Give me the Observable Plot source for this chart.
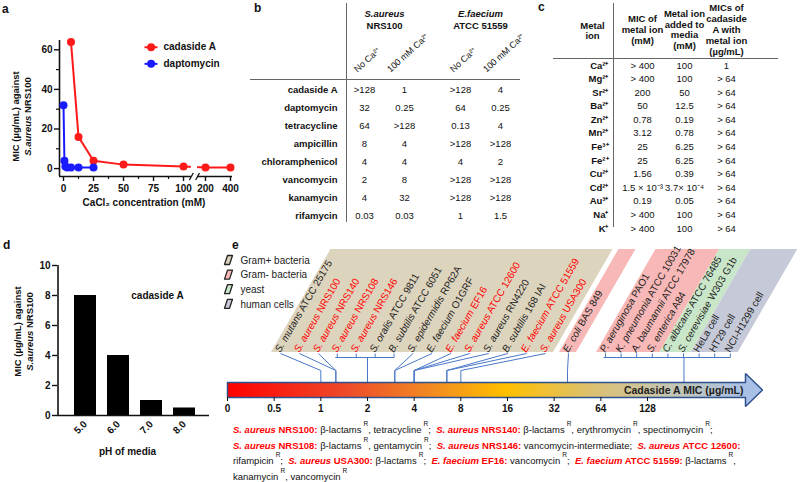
<!DOCTYPE html>
<html><head><meta charset="utf-8">
<script src="https://cdn.jsdelivr.net/npm/d3@7"></script>
<script src="https://cdn.jsdelivr.net/npm/@observablehq/plot@0.6"></script>
<style>
html,body{margin:0;padding:0;background:#fff;}
#root{position:relative;width:800px;height:482px;overflow:hidden;background:#fff;font-family:"Liberation Sans",Arial,Helvetica,sans-serif;color:#111;}
.letter{position:absolute;font-weight:bold;font-size:12px;line-height:12px;}
#cap{position:absolute;left:233px;top:422px;font-size:9.5px;line-height:15.5px;white-space:nowrap;color:#111;}
#cap b{color:#ff0000;}
#cap sup{font-size:6.5px;vertical-align:7px;margin-left:2px;line-height:0;}
</style></head>
<body><div id="root"></div>
<script>
// ---------------- DATA ----------------
// panel a
const seriesA = ["cadaside A", "daptomycin"];
const cadConc = [6.25, 12.5, 25, 50, 100, 200, 400];
const cadMIC  = [64, 16, 4, 2, 1, 0.5, 0.5];
const dapConc = [0, 0.78, 1.56, 3.12, 6.25, 12.5, 25];
const dapMIC  = [32, 4, 1, 0.5, 0.5, 0.5, 0.5];
const xTicksA = [0, 25, 50, 75, 100, 200, 400];
// panel b
const antibiotics = ["cadaside A","daptomycin","tetracycline","ampicillin","chloramphenicol","vancomycin","kanamycin","rifamycin"];
const strainsB = ["S.aureus NRS100", "E.faecium ATCC 51559"];
const conditionsB = ["No Ca²⁺", "100 mM Ca²⁺"];
const saNoCa = [">128","32","64","8","4","2","4","0.03"];
const saCa   = ["1","0.25",">128","4","4","8","32","0.03"];
const efNoCa = [">128","64","0.13",">128","4",">128",">128","1"];
const efCa   = ["4","0.25","4",">128","2",">128",">128","1.5"];
// panel c
const metalIons = ["Ca²⁺","Mg²⁺","Sr²⁺","Ba²⁺","Zn²⁺","Mn²⁺","Fe³⁺","Fe²⁺","Cu²⁺","Cd²⁺","Au³⁺","Na⁺","K⁺"];
const micMetal = ["> 400","> 400","200","50","0.78","3.12","25","25","1.56","1.5 × 10⁻³","0.19","> 400","> 400"];
const metalAdded = ["100","100","50","12.5","0.19","0.78","6.25","6.25","0.39","3.7× 10⁻⁴","0.05","100","100"];
const cadWithMetal = ["1","> 64","> 64","> 64","> 64","> 64","> 64","> 64","> 64","> 64","> 64","> 64","> 64"];
const headersC = ["Metal\nion","MIC of\nmetal ion\n(mM)","Metal ion\nadded to\nmedia\n(mM)","MICs of\ncadaside\nA with\nmetal ion\n(µg/mL)"];
// panel d
const pH = ["5.0","6.0","7.0","8.0"];
const micPH = [8, 4, 1, 0.5];
// panel e
const organisms = ["S. mutans ATCC 25175","S. aureus NRS100","S. aureus NRS140","S. aureus NRS108","S. aureus NRS146","S. oralis ATCC 9811","B. subtilis ATCC 6051","S. epidermidis RP62A","E. faecium O1GRF","E. faecium EF16","S. aureus ATCC 12600","S. aureus RN4220","B. subtilis 168 IAI","E. faecium ATCC 51559","S. aureus USA300","E. coli BAS 849","P. aeruginosa PAO1","K. pneumonia ATCC 10031","A. baumannii ATCC 17978","S. enterica A84","C. albicans ATCC 76485","S. cerevisiae W303 G1b","HeLa cell","HT29 cell","NCI-H1299 cell"];
const groupNames = ["Gram+ bacteria","Gram- bacteria","yeast","human cells"];
const orgGroup = [0,0,0,0,0,0,0,0,0,0,0,0,0,0,0,1,1,1,1,1,2,2,3,3,3].map(g => groupNames[g]);
const orgMIC = [1,1.25,1.25,2,2,2,2,3,3,4,4,4,6.5,6.5,8,39,220,220,220,220,220,220,220,220,220];
const orgResistant = [0,1,1,1,1,0,0,0,0,1,1,0,0,1,1,0,0,0,0,0,0,0,0,0,0];
const micTickLabels = ["0","0.5","1","2","4","8","16","32","64","128"];
const captionLines = [
  '<b><i>S. aureus</i> NRS100:</b> β-lactams<sup>R</sup>, tetracycline<sup>R</sup>; &nbsp;<b><i>S. aureus</i> NRS140:</b> β-lactams<sup>R</sup>, erythromycin<sup>R</sup>, spectinomycin<sup>R</sup>;',
  '<b><i>S. aureus</i> NRS108:</b> β-lactams<sup>R</sup>, gentamycin<sup>R</sup>; &nbsp;<b><i>S. aureus</i> NRS146:</b> vancomycin-intermediate; &nbsp;<b><i>S. aureus</i> ATCC 12600:</b>',
  'rifampicin<sup>R</sup>; &nbsp;<b><i>S. aureus</i> USA300:</b> β-lactams<sup>R</sup>; &nbsp;<b><i>E. faecium</i> EF16:</b> vancomycin<sup>R</sup>; &nbsp;<b><i>E. faecium</i> ATCC 51559:</b> β-lactams<sup>R</sup>,',
  'kanamycin<sup>R</sup>, vancomycin<sup>R</sup>'
];

// ---------------- HELPERS ----------------
const NS = "http://www.w3.org/2000/svg";
const FONT = "'Liberation Sans', Arial, Helvetica, sans-serif";
const root = document.getElementById("root");
const baseStyle = (extra = {}) => Object.assign({fontFamily: FONT, fontSize: "9.5px", background: "none", overflow: "visible", color: "#111"}, extra);
function mount(svg, left, top) {
  svg.style.position = "absolute"; svg.style.left = left + "px"; svg.style.top = top + "px";
  root.appendChild(svg); return svg;
}
function italicize(svg, re) {
  svg.querySelectorAll("text").forEach(t => {
    if (t.childElementCount) return;
    const s = t.textContent, m = s.match(re);
    if (!m) return;
    t.textContent = "";
    const a = document.createElementNS(NS, "tspan");
    a.setAttribute("font-style", "italic"); a.textContent = m[1];
    t.appendChild(a); t.appendChild(document.createTextNode(s.slice(m[1].length)));
  });
}
function letter(ch, left, top) {
  const d = document.createElement("div"); d.className = "letter"; d.textContent = ch;
  d.style.left = left + "px"; d.style.top = top + "px"; root.appendChild(d);
}

// ---------------- PANEL A ----------------
const tA = v => v <= 100 ? v : 118.3 + (v - 200) * 0.1042;   // broken axis
const rowsA = [
  ...cadConc.map((c, i) => ({series: seriesA[0], conc: c, mic: cadMIC[i]})),
  ...dapConc.map((c, i) => ({series: seriesA[1], conc: c, mic: dapMIC[i]}))
];
const xdA = [-3.33, 140.8], ydA = [-4, 64.7];
const gapA = [106.5, 111.7];
const legendA = seriesA.map((s, i) => ({series: s, i}));
const xTA = xTicksA.map(tA);
const plotA = Plot.plot({
  width: 240, height: 232, marginLeft: 59, marginRight: 8, marginTop: 40, marginBottom: 56,
  x: {domain: xdA, range: [59, 232], axis: null},
  y: {domain: ydA, range: [176, 40], axis: null},
  color: {domain: seriesA, range: ["#ff1a1a", "#1a1aff"]},
  style: baseStyle({fontWeight: "bold"}),
  marks: [
    Plot.ruleX([xdA[0]], {stroke: "#111", strokeWidth: 1.6}),
    Plot.ruleY([ydA[0]], {stroke: "#111", strokeWidth: 1.6}),
    Plot.axisY({ticks: [0, 20, 40, 60], tickSize: 5, tickPadding: 2, label: null, strokeWidth: 1.4, fontSize: 10}),
    Plot.axisY({ticks: [10, 30, 50], tickSize: 3, tickFormat: () => "", label: null, strokeWidth: 1.2}),
    Plot.axisX({ticks: xTA, tickFormat: d => xTicksA[xTA.indexOf(d)], tickSize: 5, tickPadding: 3, label: null, strokeWidth: 1.4, fontSize: 10}),
    Plot.axisX({ticks: [12.5, 37.5, 62.5, 87.5], tickSize: 3, tickFormat: () => "", label: null, strokeWidth: 1.2}),
    Plot.line(rowsA, {x: d => tA(d.conc), y: "mic", stroke: "series", strokeWidth: 2}),
    Plot.dot(rowsA, {x: d => tA(d.conc), y: "mic", fill: "series", r: 4}),
    Plot.rect([0], {x1: gapA[0], x2: gapA[1], y1: -6.5, y2: 3, fill: "#fff"}),
    Plot.link(gapA, {x1: d => d - 1.6, x2: d => d + 1.6, y1: -5.8, y2: -2.2, stroke: "#111", strokeWidth: 1.3}),
    Plot.link(legendA, {x1: 67.5, x2: 78.3, y1: d => 61.3 - d.i * 8.4, y2: d => 61.3 - d.i * 8.4, stroke: "series", strokeWidth: 2}),
    Plot.dot(legendA, {x: 73, y: d => 61.3 - d.i * 8.4, fill: "series", r: 4}),
    Plot.text(legendA, {x: 83.3, y: d => 61.3 - d.i * 8.4, text: "series", textAnchor: "start", fill: "#111", fontSize: 10}),
    Plot.text(["MIC (µg/mL) against"], {text: d => d, frameAnchor: "left", textAnchor: "middle", rotate: -90, dx: -44, dy: 8}),
    Plot.text(["S.aureus NRS100"], {text: d => d, frameAnchor: "left", textAnchor: "middle", rotate: -90, dx: -32, dy: 8}),
    Plot.text(["CaCl₂ concentration (mM)"], {text: d => d, frameAnchor: "bottom", dy: 29, dx: -2, fontSize: 10})
  ]
});
italicize(plotA, /^(S\.aureus)/);
mount(plotA, 0, 0);

// ---------------- PANEL B ----------------
const condArrays = [[saNoCa, saCa], [efNoCa, efCa]];
const cellsB = antibiotics.flatMap((a, i) => [0, 1].flatMap(s => [0, 1].map(c => ({row: i, strain: s, cond: c, v: condArrays[s][c][i]}))));
const headB = [0, 1].flatMap(s => [0, 1].map(c => ({strain: s, cond: c, label: conditionsB[c]})));
const plotB = Plot.plot({
  width: 290, height: 232, marginLeft: 15, marginRight: 5, marginTop: 3, marginBottom: 10,
  x: {domain: [0, 1], range: [149, 245], axis: null},
  y: {domain: [0, 7], range: [89, 215], axis: null},
  style: baseStyle(),
  marks: [
    Plot.ruleX([0], {dx: -38, stroke: "#666", strokeWidth: 1}),
    Plot.ruleY([0], {dy: -10, stroke: "#666", strokeWidth: 1}),
    Plot.text(antibiotics, {x: () => 0, y: (d, i) => i, text: d => d, dx: -47, textAnchor: "end", fontWeight: "bold"}),
    Plot.text(cellsB.filter(c => c.cond === 0), {x: "strain", y: "row", text: "v", dx: -20}),
    Plot.text(cellsB.filter(c => c.cond === 1), {x: "strain", y: "row", text: "v", dx: 20}),
    Plot.text(strainsB, {x: (d, i) => i, y: () => 0, text: d => d.split(" ")[0], dy: -76, fontWeight: "bold", fontStyle: "italic"}),
    Plot.text(strainsB, {x: (d, i) => i, y: () => 0, text: d => d.split(" ").slice(1).join(" "), dy: -64, fontWeight: "bold"}),
    Plot.text(headB.filter(h => h.cond === 0), {x: "strain", y: () => 0, text: "label", rotate: -42, textAnchor: "start", dx: -29, dy: -19, fontSize: 9}),
    Plot.text(headB.filter(h => h.cond === 1), {x: "strain", y: () => 0, text: "label", rotate: -42, textAnchor: "start", dx: 4, dy: -19, fontSize: 9})
  ]
});
mount(plotB, 235, 0);

// ---------------- PANEL C ----------------
const colsC = ["mic", "added", "cad"];
const plotC = Plot.plot({
  width: 275, height: 235, marginLeft: 28, marginRight: 22, marginTop: 3, marginBottom: 8,
  x: {type: "point", domain: colsC, range: [95, 222], axis: null},
  y: {domain: [0, 12], range: [65, 228], axis: null},
  style: baseStyle(),
  marks: [
    Plot.ruleX(["mic"], {dx: -29, stroke: "#666", strokeWidth: 1}),
    Plot.ruleY([0], {dy: -7, stroke: "#666", strokeWidth: 1}),
    Plot.text(metalIons, {x: () => "mic", y: (d, i) => i, text: d => d, dx: -34, textAnchor: "end", fontWeight: "bold"}),
    Plot.text(micMetal, {x: () => "mic", y: (d, i) => i, text: d => d}),
    Plot.text(metalAdded, {x: () => "added", y: (d, i) => i, text: d => d}),
    Plot.text(cadWithMetal, {x: () => "cad", y: (d, i) => i, text: d => d}),
    Plot.text([headersC[0]], {x: () => "mic", y: () => 0, text: d => d, dx: -50, dy: -35, fontWeight: "bold", lineHeight: 1.15}),
    Plot.text(headersC.slice(1), {x: (d, i) => colsC[i], y: () => 0, text: d => d, dy: -36, fontWeight: "bold", lineHeight: 1.15})
  ]
});
mount(plotC, 525, 0);

// ---------------- PANEL D ----------------
const rowsD = pH.map((p, i) => ({ph: p, mic: micPH[i]}));
const plotD = Plot.plot({
  width: 225, height: 237, marginLeft: 57, marginRight: 16, marginTop: 20, marginBottom: 67,
  x: {type: "band", domain: pH, range: [67.6, 202.8], paddingInner: 0.32, paddingOuter: 0.16, axis: null},
  y: {domain: [0, 10], range: [170, 20], axis: null},
  style: baseStyle({fontWeight: "bold"}),
  marks: [
    Plot.barY(rowsD, {x: "ph", y: "mic", fill: "#000"}),
    Plot.ruleY([0], {stroke: "#111", strokeWidth: 1.6}),
    Plot.ruleX([pH[0]], {dx: -27.5, stroke: "#111", strokeWidth: 1.6}),
    Plot.axisY({ticks: [0, 2, 4, 6, 8, 10], tickSize: 5, tickPadding: 2, label: null, strokeWidth: 1.4, fontSize: 10}),
    Plot.axisX({tickSize: 0, tickRotate: -45, tickPadding: 7, label: null, fontSize: 10}),
    Plot.text(["cadaside A"], {text: d => d, x: () => "7.0", y: () => 8, dx: 6, fontSize: 10}),
    Plot.text(["MIC (µg/mL) against"], {text: d => d, frameAnchor: "left", textAnchor: "middle", rotate: -90, dx: -40, dy: -9}),
    Plot.text(["S.aureus NRS100"], {text: d => d, frameAnchor: "left", textAnchor: "middle", rotate: -90, dx: -28, dy: -9}),
    Plot.text(["pH of media"], {text: d => d, frameAnchor: "bottom", dy: 39, dx: -6, fontSize: 10})
  ]
});
italicize(plotD, /^(S\.aureus)/);
mount(plotD, 0, 245);

// ---------------- PANEL E ----------------
const xE = d3.scaleLinear([0, 9], [227, 647]);       // page pixels of the MIC axis
const xi = px => xE.invert(px);
const micIdx = v => v <= 0 ? 0 : Math.log2(v) + 2;
const basePx = i => i < 15 ? 280 + i * 18.93 : i === 15 ? 568 : 605 + (i - 16) * 15.6;
const orgRows = organisms.map((name, i) => ({name, grp: orgGroup[i], mic: orgMIC[i], red: !!orgResistant[i], base: basePx(i)}));
const runs = [];
orgRows.forEach(o => {
  const last = runs[runs.length - 1];
  if (last && last.grp === o.grp && o.base - last.lastBase < 25) last.lastBase = o.base;
  else runs.push({grp: o.grp, firstBase: o.base, lastBase: o.base});
});
runs.forEach(r => { r.L = r.firstBase - 9; r.R = r.lastBase + 8; });
for (let k = 1; k < runs.length; k++) {
  if (runs[k].firstBase - runs[k - 1].lastBase < 20) {
    const m = (runs[k].firstBase + runs[k - 1].lastBase) / 2; runs[k - 1].R = m; runs[k].L = m;
  }
}
const yBottom = 352, yTop = 249, slant = (yBottom - yTop) / Math.tan(Math.PI / 3);
const regionPts = runs.flatMap((r, k) => [
  {id: k, grp: r.grp, y: yBottom, x1: xi(r.L), x2: xi(r.R)},
  {id: k, grp: r.grp, y: yTop, x1: xi(r.L + slant), x2: xi(r.R + slant)}
]);
const yBase = 353, yJoin = 370, yBr = 357, barTop = 382, barBot = 397;
const bracketMICs = new Set([2, 220]);
const segs = [];
orgRows.forEach(o => {
  const mx = micIdx(o.mic);
  if (bracketMICs.has(o.mic)) segs.push({x1: xi(o.base), y1: yBase, x2: xi(o.base), y2: yBr});
  else { segs.push({x1: xi(o.base), y1: yBase, x2: mx, y2: yJoin}); segs.push({x1: mx, y1: yJoin, x2: mx, y2: barTop}); }
});
d3.group(orgRows.filter(o => bracketMICs.has(o.mic)), o => o.mic).forEach((arr, mic) => {
  const mx = micIdx(mic);
  segs.push({x1: xi(d3.min(arr, o => o.base) - 2), y1: yBr, x2: xi(d3.max(arr, o => o.base)), y2: yBr});
  segs.push({x1: mx, y1: yBr, x2: mx, y2: barTop});
});
const barEnd = xi(745), headEnd = xi(762);
const arrowPts = [[0, barTop], [barEnd, barTop], [barEnd, barTop - 9], [headEnd, (barTop + barBot) / 2], [barEnd, barBot + 9], [barEnd, barBot], [0, barBot], [0, barTop]];
const legendE = groupNames.map((g, i) => ({grp: g, yc: 260 + i * 14.6}));
const legendPts = legendE.flatMap(d => [
  {grp: d.grp, y: d.yc + 4.5, x1: xi(224.5), x2: xi(229.5)},
  {grp: d.grp, y: d.yc - 4.5, x1: xi(227.5), x2: xi(232.5)}
]);
const plotE = Plot.plot({
  width: 580, height: 177, marginLeft: 0, marginRight: 0, marginTop: 0, marginBottom: 25,
  x: {domain: [0, 9], range: [227 - 220, 647 - 220], axis: null},
  y: {domain: [245, 422], range: [0, 177], axis: null},
  color: {domain: groupNames, range: ["#ddd4bd", "#f7b8b7", "#c9e7c8", "#c6cad8"]},
  style: baseStyle(),
  marks: [
    Plot.areaX(regionPts, {y: "y", x1: "x1", x2: "x2", z: "id", fill: "grp"}),
    Plot.link(segs, {x1: "x1", y1: "y1", x2: "x2", y2: "y2", stroke: "#4a78c8", strokeWidth: 1}),
    Plot.text(orgRows.filter(o => !o.red), {x: o => xi(o.base), y: () => 351, text: "name", rotate: -60, textAnchor: "start", dx: -3, fill: "#222", fontSize: 10}),
    Plot.text(orgRows.filter(o => o.red), {x: o => xi(o.base), y: () => 351, text: "name", rotate: -60, textAnchor: "start", dx: -3, fill: "#ff0000", fontSize: 10}),
    Plot.line(arrowPts, {x: d => d[0], y: d => d[1], fill: "url(#cbgrad)", stroke: "#2f528f", strokeWidth: 1.5, strokeLinejoin: "miter"}),
    Plot.axisX({ticks: d3.range(10), tickFormat: d => micTickLabels[d], tickSize: 4, tickPadding: 3, label: null, fontWeight: "bold", fontSize: 10}),
    Plot.text(["Cadaside A MIC (µg/mL)"], {text: d => d, x: () => barEnd, y: () => 390, textAnchor: "end", dx: -2, fontWeight: "bold", fontSize: 10.5, fill: "#222"}),
    Plot.areaX(legendPts, {y: "y", x1: "x1", x2: "x2", z: "grp", fill: "grp", stroke: "#222", strokeWidth: 1.3}),
    Plot.text(legendE, {x: () => xi(240), y: "yc", text: "grp", textAnchor: "start", fontSize: 10, fill: "#222"})
  ]
});
const defs = document.createElementNS(NS, "defs");
defs.innerHTML = '<linearGradient id="cbgrad" x1="0" x2="1" y1="0" y2="0">' +
  '<stop offset="0" stop-color="#ff0000"/><stop offset="0.22" stop-color="#ee4a2a"/><stop offset="0.38" stop-color="#f28a22"/>' +
  '<stop offset="0.52" stop-color="#ffc000"/><stop offset="0.68" stop-color="#dcc070"/><stop offset="0.82" stop-color="#c6c6b0"/>' +
  '<stop offset="0.97" stop-color="#a9c0e6"/><stop offset="1" stop-color="#a9c0e6"/></linearGradient>';
plotE.insertBefore(defs, plotE.firstChild);
italicize(plotE, /^([A-Z]\. [a-z]+)/);
mount(plotE, 220, 245);

// caption
const cap = document.createElement("div"); cap.id = "cap";
cap.innerHTML = captionLines.map(l => "<div>" + l + "</div>").join("");
root.appendChild(cap);

letter("a", 2, 3); letter("b", 254, 2); letter("c", 538, 1); letter("d", 3, 239); letter("e", 232, 239);
</script></body></html>
